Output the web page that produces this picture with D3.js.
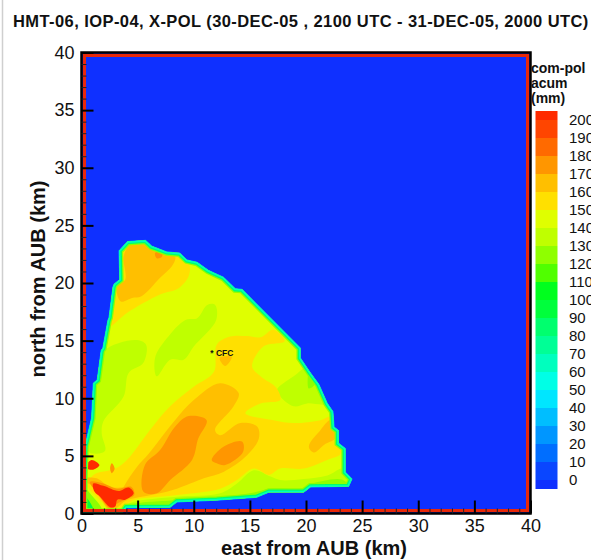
<!DOCTYPE html>
<html>
<head>
<meta charset="utf-8">
<script src="https://cdn.jsdelivr.net/npm/d3@7"></script>
<style>
  html, body { margin: 0; padding: 0; background: #fff; overflow: hidden; }
  svg { display: block; font-family: "Liberation Sans", Arial, sans-serif; }
</style>
</head>
<body>
<div id="chart"></div>
<script>
// band edges of the colour table (mm), and one colour per band
const levels = d3.range(0, 201, 10);
const bandColors = ["#0f30ff", "#0a46ff", "#006eff", "#0096ff", "#00beff", "#00e6ff", "#00ffe6",
  "#00ffbe", "#00ff96", "#00ff6e", "#00ff3c", "#00ff1e", "#50ff00", "#8fff00", "#bfff00", "#dfff00",
  "#ffe000", "#ffbf00", "#ff9600", "#ff6a00", "#ff4500", "#ff2a00"];
const legendLabels = d3.range(200, -1, -10);

// radar footprint, km east / km north of AUB
const footprint = [[0.16,0.1],[0.2,3.2],[0.3,5.8],[0.9,8.3],[1.05,11.3],[1.4,11.6],[1.75,14.15],[1.9,14.35],[2.35,16.75],
  [2.45,17],[2.8,19.65],[2.9,19.9],[3.4,20.3],
  [3.35,22.8],[4.1,23.6],[5.7,23.7],[6.25,23.2],[7.6,22.7],[8.75,22.6],[9.4,22],[10.3,21.8],[11.3,21.1],[12.65,20.5],
  [13.7,19.5],[14.3,19.45],[19.5,14.35],[19.5,13.5],[20.4,12.2],[21.15,11.2],[21.9,9.55],[22.4,8.85],[22.5,7.5],
  [22.9,7.2],[22.9,6.1],[23.5,5.65],[23.5,3.6],[24.1,3],[23.8,2.35],[20.4,2.3],[19.8,1.85],[16.7,1.85],[15.6,1.4],
  [12.05,1.15],[8.5,1],[7.9,0.55],[4,0.5],[3.7,0.1]];

// accumulation contours, one array per closed region
const green130Left = [[1.95,14.05],[4.8,15.05],[5.75,14.65],[5.5,13.05],[4.2,12.2],[3.75,10.15],[1.95,8],[1.8,6.95],
  [2.1,5.45],[1.05,5.2],[0.45,5.5],[0.9,8.1],[1.35,11.6]];
const green130Mid = [[6.55,13.5],[7.6,15.2],[9.25,16.8],[10.3,16.95],[11.2,18.1],[11.9,18.1],[12,16.8],[10,14.5],
  [9.1,13.35],[7.9,13.35],[6.7,11.9]];
const green130Right = [[17.4,10.7],[18.9,11.9],[20.25,12.75],[21.15,11.15],[21.8,9.55],[20.1,9.55],[18.9,9.3],[17.7,10.15]];
const green120Right = [[20.25,12.2],[20.85,11.3],[20.25,10.85]];
const green130Bottom = [[13.85,2.6],[15.35,3.75],[16.85,3.2],[17.7,2.9],[19.8,3],[21.9,3.3],[23.2,3.9],[23.35,3.4],
  [23.8,3.05],[23.1,2.45],[20.4,2.2],[19.8,1.75],[16.5,1.75],[15.6,1.45],[12.05,1.15],[8.5,1],[7.9,0.45],[4,0.45],
  [4,0.7],[4.6,1],[8.5,1.45],[12.35,1.75]];
const green120Bottom = [[15,1.75],[16.85,2.15],[19.8,2.2],[20.4,2.55],[23.2,2.95],[23.8,2.35],[20.4,2.2],[19.8,1.75],
  [16.5,1.75],[15.6,1.45],[12.05,1.15],[8.5,1],[7.9,0.5],[4.2,0.5],[4.6,0.8],[8.5,1.15],[12.05,1.35]];
const yellowBig = [[0.6,2.6],[1.05,3.35],[3,3.9],[4.05,4.65],[6.1,7.25],[7.9,9.3],[10,11],[11.8,12.3],[12.05,14.65],
  [13.25,15.35],[14.75,15.4],[15.95,15.3],[17.1,15.95],[18.1,14.95],[16.2,14.5],[15.2,12.75],[15.95,11.9],[17.4,10.85],
  [17.7,9.85],[15.95,9.55],[14.6,8.7],[17.1,8.1],[18.9,7.85],[21.3,8.1],[22.25,8.4],[22.9,6.4],[23.1,5.2],[21.9,4.65],
  [19.8,3.9],[17.7,3.9],[16.7,3.35],[15.35,3.9],[13.85,2.9],[12.35,2.15],[8.5,1.6],[4.6,1.15],[3.9,0.7],[3.15,0.45],
  [2.55,0.45],[1.05,1.75],[0.45,2.45]];
const yellowTop = [[2.55,16.25],[4.05,17.4],[7,19],[8.65,19.55],[9.55,20.6],[9.55,21.75],[8.35,22.4],[7.6,22.65],
  [6.25,23.2],[5.65,23.6],[4.2,23.55],[3.4,22.75],[3.4,20.3],[2.85,19.85],[2.55,16.8]];
const amberTop = [[3.5,18.4],[4.5,18.7],[5.35,18.85],[7,20.45],[8.05,21.45],[8.35,22.25],[7.6,22.55],[6.25,23.05],
  [5.65,23.5],[4.35,23.35],[3.75,22.3],[3.9,20.3],[3.15,19.7]];
const amberMid = [[3,0.6],[3.75,2.3],[4.95,4.05],[6,5.2],[8.2,7.95],[10,9.85],[12.35,11.3],[14,10.45],[13.55,9.3],
  [11.9,7.25],[12.35,6.8],[14.15,7.85],[15.65,7.55],[15.8,6.5],[14.75,5.05],[12.65,3.6],[10.9,3.05],[8.5,2.15],
  [7,1.75],[4.05,1.15]];
const amberRight = [[20.25,5.8],[21.3,7.25],[22.2,8.1],[22.75,6.65],[21.6,5.95],[20.7,5.3]];
const amberCfc = [[12.3,13.5],[13.4,13.6],[12.8,12.8]];
const amberArc = [[0.35,3.05],[1.35,3.05],[2.55,2.3],[4.45,2.2],[4.75,1.6],[3.9,1.15],[3.3,0.6],[2.85,0.3],[2.4,0.35],
  [1.8,1.15],[0.9,2.45],[0.3,2.75]];
const orangeLong = [[5.5,1.9],[5.65,4.2],[7,5.5],[8.35,7.55],[9.55,8.45],[11.15,8.1],[10.4,6.5],[9.85,4.65],[7.9,2.9],[6.7,1.75]];
const orangeShort = [[11.6,4.65],[12.65,5.8],[14.3,6.25],[14.4,5.35],[12.8,4.2],[12.05,4.35]];
const orangeTop = [[6.55,22.6],[7.15,22.75],[7.15,22.25],[6.7,22.15]];
const orangeSpot = [[2.55,3.9],[2.7,4.35],[2.95,3.9],[2.7,3.5]];
const orangeArc = [[0.75,2.75],[1.95,2.6],[3.15,2.15],[4.45,2.3],[4.7,1.6],[3.9,1.2],[3.15,0.85],[2.85,0.45],[2.5,0.45],[1.65,1.45]];
const redSpot = [[0.45,4.2],[0.9,4.65],[1.6,4.2],[1.05,3.8],[0.5,3.9]];
const redMain = [[1.05,2.6],[1.95,2.4],[3.3,1.95],[4.2,2.25],[4.65,1.75],[3.9,1.2],[3.2,1.2],[3,0.6],[2.55,0.55],[1.65,1.45],[1.15,1.9]];
const cornerLime = [[0.2,2.3],[0.75,1.75],[1.8,0.3],[0.2,0.3]];
const cornerGreen = [[0.2,1.6],[1.05,0.3],[0.2,0.3]];

// painted in this order, each with the mm value it sits in
const regions = [
  [135, green130Left], [135, green130Mid], [135, green130Right], [125, green120Right], [135, green130Bottom],
  [125, green120Bottom], [155, yellowBig], [155, yellowTop], [165, amberTop], [165, amberMid], [165, amberRight],
  [165, amberCfc], [165, amberArc], [175, orangeLong], [175, orangeShort], [175, orangeTop], [175, orangeSpot],
  [175, orangeArc], [205, redSpot], [205, redMain], [125, cornerLime], [95, cornerGreen]
];

const station = [11.47, 13.87];
const baseValue = 145;
const outsideValue = -1;

const width = 591, height = 560;
const svg = d3.select("#chart").append("svg").attr("width", width).attr("height", height);

const x = d3.scaleLinear().domain([0, 40]).range([81.5, 530.5]);
const y = d3.scaleLinear().domain([0, 40]).range([513.5, 52.5]);
const color = d3.scaleThreshold().domain(levels).range(bandColors);
const path = d3.line().x(d => x(d[0])).y(d => y(d[1])).curve(d3.curveLinearClosed);
const smooth = d3.line().x(d => x(d[0])).y(d => y(d[1])).curve(d3.curveCatmullRomClosed.alpha(0.5));

const defs = svg.append("defs");
defs.append("clipPath").attr("id", "fp").append("path").attr("d", path(footprint));
defs.append("filter").attr("id", "soft").append("feGaussianBlur").attr("stdDeviation", 0.55);

// grey edge on the left of the screenshot
svg.append("line").attr("x1", 2.5).attr("x2", 2.5).attr("y1", 0).attr("y2", height)
  .attr("stroke", "#cfcfcf").attr("stroke-width", 1.5);

svg.append("text").attr("x", 13).attr("y", 27).attr("font-size", 16.5).attr("letter-spacing", 0.42)
  .attr("font-weight", "bold").attr("fill", "#111")
  .text("HMT-06, IOP-04, X-POL (30-DEC-05 , 2100 UTC - 31-DEC-05, 2000 UTC)");

// contour field
const field = svg.append("g");
field.append("rect").attr("x", x(0)).attr("y", y(40)).attr("width", x(40) - x(0)).attr("height", y(0) - y(40))
  .attr("fill", color(outsideValue));

const inner = field.append("g").attr("filter", "url(#soft)");
inner.append("path").attr("d", path(footprint)).attr("fill", color(baseValue))
  .attr("stroke", color(35)).attr("stroke-width", 1);

const clipped = inner.append("g").attr("clip-path", "url(#fp)");
clipped.selectAll(".region").data(regions).join("path")
  .attr("class", "region")
  .attr("d", d => smooth(d[1]))
  .attr("fill", d => color(d[0]));

// the steep drop at the edge of the footprint, inset bands
[[125, 8], [85, 5.5], [65, 2.8]].forEach(b => {
  clipped.append("path").attr("d", path(footprint)).attr("fill", "none")
    .attr("stroke", color(b[0])).attr("stroke-width", b[1]);
});

// high value ring the plotter left around the domain
svg.append("rect").attr("x", x(0) + 3).attr("y", y(40) + 3)
  .attr("width", x(40) - x(0) - 6).attr("height", y(0) - y(40) - 6)
  .attr("fill", "none").attr("stroke", "#e8280a").attr("stroke-width", 3);

svg.append("rect").attr("x", x(0)).attr("y", y(40)).attr("width", x(40) - x(0)).attr("height", y(0) - y(40))
  .attr("fill", "none").attr("stroke", "#000").attr("stroke-width", 2.5);

// axes
const majors = d3.range(0, 41, 5);
const minors = d3.range(0, 41).filter(d => d % 5 != 0);

function styleAxis(g, labels) {
  g.select(".domain").remove();
  g.selectAll("text").attr("font-size", 18).attr("fill", "#111")
    .attr("font-family", '"Liberation Sans", Arial, sans-serif');
  if (!labels) g.selectAll("text").remove();
}

svg.append("g").attr("transform", "translate(0," + y(0) + ")")
  .call(d3.axisBottom(x).tickValues(minors).tickSize(-5).tickFormat(""))
  .call(g => styleAxis(g, false))
  .selectAll("line").attr("stroke", "#222");
svg.append("g").attr("transform", "translate(" + x(0) + ",0)")
  .call(d3.axisLeft(y).tickValues(minors).tickSize(-5).tickFormat(""))
  .call(g => styleAxis(g, false))
  .selectAll("line").attr("stroke", "#222");

svg.append("g").attr("transform", "translate(0," + y(0) + ")")
  .call(d3.axisBottom(x).tickValues(majors).tickSize(-13).tickPadding(6))
  .call(g => styleAxis(g, true))
  .selectAll("line").attr("stroke", "#000").attr("stroke-width", 2);
svg.append("g").attr("transform", "translate(" + x(0) + ",0)")
  .call(d3.axisLeft(y).tickValues(majors).tickSize(-12).tickPadding(7))
  .call(g => styleAxis(g, true))
  .selectAll("line").attr("stroke", "#000").attr("stroke-width", 2);

svg.append("text").attr("x", 314).attr("y", 555).attr("text-anchor", "middle")
  .attr("font-size", 20).attr("font-weight", "bold").attr("fill", "#111").text("east from AUB (km)");
svg.append("text").attr("transform", "translate(45,279) rotate(-90)").attr("text-anchor", "middle")
  .attr("font-size", 20).attr("font-weight", "bold").attr("fill", "#111").text("north from AUB (km)");

svg.append("text").attr("x", x(station[0])).attr("y", y(station[1]) + 2.8)
  .attr("font-size", 8.5).attr("font-weight", "bold").attr("fill", "#111").text("* CFC");

// colour legend
const legendY = d3.scaleLinear().domain([0, 200]).range([480, 120]);
const legendX = 535.5, legendW = 22;
const legend = svg.append("g");
legend.selectAll("rect").data(bandColors).join("rect")
  .attr("x", legendX).attr("width", legendW)
  .attr("y", (d, i) => i == bandColors.length - 1 ? legendY(200) - 9 : i == 0 ? legendY(0) : legendY(i * 10))
  .attr("height", (d, i) => (i == 0 || i == bandColors.length - 1) ? 9 : legendY(i * 10 - 10) - legendY(i * 10))
  .attr("fill", d => d);
legend.selectAll("text.lab").data(legendLabels).join("text")
  .attr("class", "lab")
  .attr("x", 569).attr("y", d => legendY(d)).attr("dy", "0.36em")
  .attr("font-size", 15).attr("fill", "#111").text(d => d);

["com-pol", "acum", "(mm)"].forEach((t, i) => {
  svg.append("text").attr("x", 531).attr("y", 72.5 + i * 15)
    .attr("font-size", 14).attr("font-weight", "bold").attr("fill", "#111").text(t);
});
</script>
</body>
</html>
